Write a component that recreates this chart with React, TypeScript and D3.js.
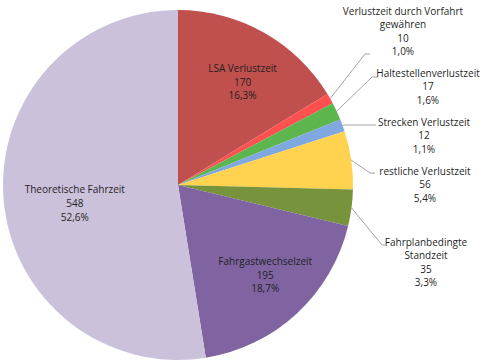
import * as d3 from "d3";

const categories = [
  "LSA Verlustzeit",
  "Verlustzeit durch Vorfahrt gewähren",
  "Haltestellenverlustzeit",
  "Strecken Verlustzeit",
  "restliche Verlustzeit",
  "Fahrplanbedingte Standzeit",
  "Fahrgastwechselzeit",
  "Theoretische Fahrzeit",
];
const values = [170, 10, 17, 12, 56, 35, 195, 548];
// shares as printed in the chart (the underlying values are rounded)
const percents = [0.163, 0.01, 0.016, 0.011, 0.054, 0.033, 0.187, 0.526];
const colors = ["#C0504D", "#FF5050", "#5DB54E", "#7FA7E0", "#FFD24F", "#77933C", "#8064A2", "#CCC1DA"];

// label text split into lines
const labelLines = [
  ["LSA Verlustzeit"],
  ["Verlustzeit durch Vorfahrt", "gewähren"],
  ["Haltestellenverlustzeit"],
  ["Strecken Verlustzeit"],
  ["restliche Verlustzeit"],
  ["Fahrplanbedingte", "Standzeit"],
  ["Fahrgastwechselzeit"],
  ["Theoretische Fahrzeit"],
];

// inside labels: radius factor + angle nudge (deg); outside: text centre / elbow
const inside: Record<number, { r: number; da: number }> = {
  0: { r: 0.69, da: 3 },
  6: { r: 0.72, da: -1 },
  7: { r: 0.6, da: -6 },
};
const outside: Record<number, { cx: number; y: number; ex: number; ey: number; tx: number }> = {
  1: { cx: 403, y: 12, ex: 365, ey: 54, tx: 370 },
  2: { cx: 428, y: 74, ex: 372, ey: 77, tx: 378 },
  3: { cx: 424, y: 123, ex: 345, ey: 125, tx: 376 },
  4: { cx: 425, y: 172, ex: 370, ey: 173, tx: 375 },
  5: { cx: 426, y: 243, ex: 382, ey: 245, tx: 385 },
};

const width = 485;
const height = 364;
const cx = 178;
const cy = 185;
const R = 175;
const lineH = 13.6;

const pctFmt = (v: number) => d3.format(".1%")(v).replace(".", ",");

export default function App() {
  const pie = d3.pie<number>().sort(null).value((d) => d);
  const arcs = pie(values);
  const arc = d3.arc<d3.PieArcDatum<number>>().innerRadius(0).outerRadius(R);

  return (
    <svg
      width={width}
      height={height}
      style={{ position: "absolute", left: 0, top: 0, background: "#fff" }}
      fontFamily="'Open Sans', sans-serif"
      fontSize={10}
    >
      <g transform={`translate(${cx},${cy})`}>
        {arcs.map((a, i) => (
          <path key={categories[i]} d={arc(a) || ""} fill={colors[i]} />
        ))}
      </g>
      {arcs.map((a, i) => {
        const lines = [...labelLines[i], String(values[i]), pctFmt(percents[i])];
        const mid = (a.startAngle + a.endAngle) / 2;
        if (inside[i]) {
          const ang = mid + (inside[i].da * Math.PI) / 180;
          const r = R * inside[i].r;
          const x = cx + r * Math.sin(ang);
          const y = cy - r * Math.cos(ang);
          const y0 = y - ((lines.length - 1) * lineH) / 2;
          return (
            <g key={i}>
              {lines.map((t, j) => (
                <text key={j} x={x} y={y0 + j * lineH} textAnchor="middle" dominantBaseline="middle" fill="#1f1f1f">
                  {t}
                </text>
              ))}
            </g>
          );
        }
        const o = outside[i];
        const sx = cx + R * Math.sin(mid);
        const sy = cy - R * Math.cos(mid);
        return (
          <g key={i}>
            <polyline
              points={`${sx},${sy} ${o.ex},${o.ey} ${o.tx},${o.ey}`}
              fill="none"
              stroke="#8c8c8c"
              strokeWidth={0.8}
            />
            {lines.map((t, j) => (
              <text key={j} x={o.cx} y={o.y + j * lineH} textAnchor="middle" dominantBaseline="middle" fill="#1f1f1f">
                {t}
              </text>
            ))}
          </g>
        );
      })}
    </svg>
  );
}
